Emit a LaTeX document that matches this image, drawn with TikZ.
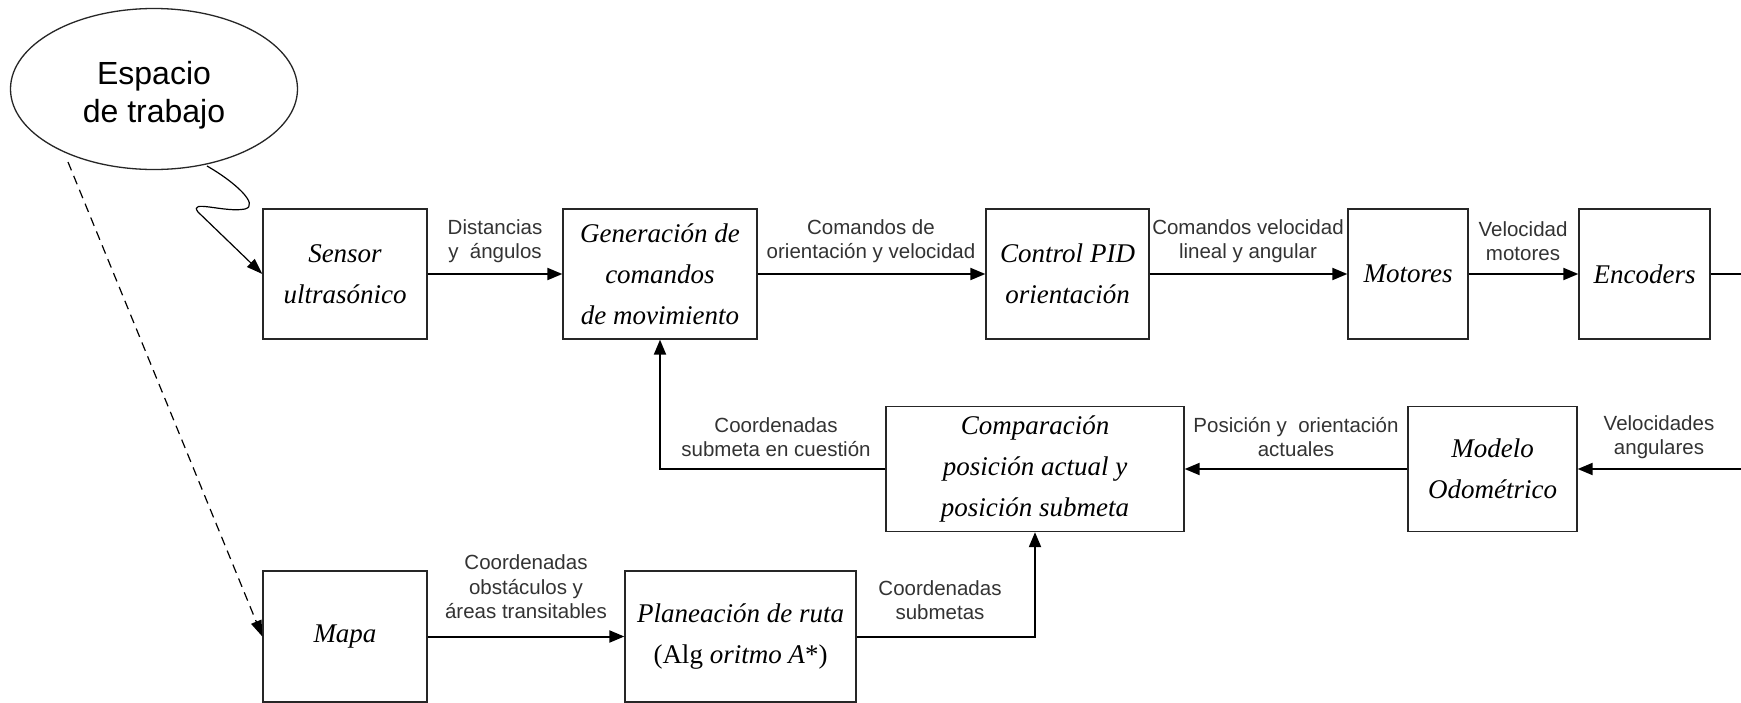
\documentclass[tikz,border=0pt]{standalone}
\usepackage{fontspec}
\setmainfont{Liberation Serif}
\setsansfont{Liberation Sans}
\usetikzlibrary{arrows.meta,shapes.geometric}
\begin{document}
\begin{tikzpicture}[x=1pt,y=-1pt,
 blk/.style={draw=black!85,line width=1.3pt,minimum height=130pt,inner sep=0pt,align=center,font=\fontsize{27}{41}\selectfont\itshape},
 lbl/.style={align=center,font=\sffamily\fontsize{20.5}{24.5}\selectfont,text=black!80,inner sep=0pt},
 arr/.style={line width=2pt,-{Triangle[length=15pt,width=12pt]}},
 thin arr/.style={line width=1.2pt,-{Triangle[length=16pt,width=11pt]}},
]
\useasboundingbox (0,0) rectangle (1741,702);
\fill[white] (0,0) rectangle (1741,702);

\node[ellipse,draw=black!85,line width=1.3pt,minimum width=287pt,minimum height=161pt,inner sep=0pt] (esp) at (154,89) {};
\node[align=center,inner sep=0pt,font=\sffamily\fontsize{32}{38}\selectfont] (esptext) at (154,95) {Espacio\\de trabajo};

\node[blk,minimum width=164pt] (sensor) at (345,274) {Sensor\\ultrasónico};
\node[blk,minimum width=194pt] (gen) at (660,274) {Generación de\\comandos\\de movimiento};
\node[blk,minimum width=163pt] (pid) at (1067.5,274) {Control\hspace{7pt}PID\\orientación};
\node[blk,minimum width=120pt] (mot) at (1408,274) {Motores};
\node[blk,minimum width=131pt] (enc) at (1644.5,274) {Encoders};
\node[blk,minimum width=298pt,minimum height=125pt] (comp) at (1035,469) {Comparación\\posición actual y\\posición submeta};
\node[blk,minimum width=169pt,minimum height=125pt] (odo) at (1492.5,469) {Modelo\\Odométrico};
\node[blk,minimum width=164pt,minimum height=131pt] (mapa) at (345,636.5) {Mapa};
\node[blk,minimum width=231pt,minimum height=131pt] (plan) at (740.5,636.5) {Planeación de ruta\\{\upshape(Alg} oritmo A{\upshape*)}};

\coordinate (encR) at (1741,274);
\coordinate (odoR) at (1741,469);
\coordinate (dstart) at (68,162);
\coordinate (tstart) at (207,166);

\draw[arr] (sensor.east) -- (gen.west);
\draw[arr] (gen.east) -- (pid.west);
\draw[arr] (pid.east) -- (mot.west);
\draw[arr] (mot.east) -- (enc.west);
\draw[line width=2pt] (enc.east) -- (encR);
\draw[arr] (odoR) -- (odo.east);
\draw[arr] (odo.west) -- (comp.east);
\draw[arr] (comp.west) -| (gen.south);
\draw[arr] (mapa.east) -- (plan.west);
\draw[arr] (plan.east) -| (comp.south);

\draw[thin arr] (tstart) .. controls (235,182) and (260,205) .. (245,209) .. controls (225,213) and (188,199) .. (198,212) -- (sensor.west);
\draw[thin arr,dash pattern=on 9pt off 6pt] (dstart) -- (mapa.west);

\node[lbl] (l1) at (495,241) {Distancias\\y~~ángulos};
\node[lbl] (l2) at (871,241) {Comandos de\\orientación y velocidad};
\node[lbl] (l3) at (1248,241) {Comandos velocidad\\lineal y angular};
\node[lbl] (l4) at (1523,241) {Velocidad\\motores};
\node[lbl] (l5) at (776,437) {Coordenadas\\submeta en cuestión};
\node[lbl] (l6) at (1296,437) {Posición y~~orientación\\actuales};
\node[lbl] (l7) at (1659,437) {Velocidades\\angulares};
\node[lbl] (l8) at (526,587) {Coordenadas\\obstáculos y\\áreas transitables};
\node[lbl] (l9) at (940,600) {Coordenadas\\submetas};
\end{tikzpicture}
\end{document}
